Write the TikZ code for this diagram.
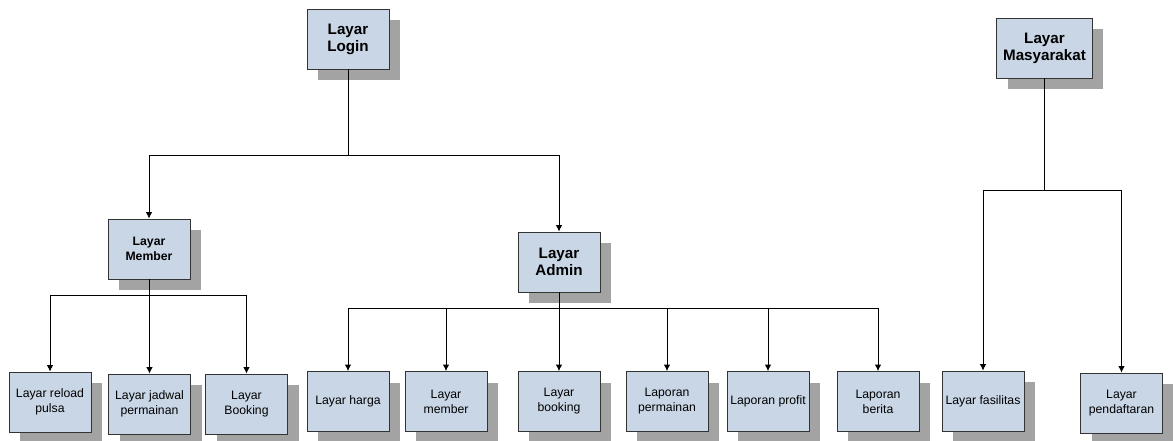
\documentclass[tikz,border=0pt]{standalone}
\usepackage{fontspec}
\setmainfont{Liberation Sans}
\usetikzlibrary{shadows,arrows.meta}
\definecolor{kotak}{RGB}{201,214,230}
\definecolor{bayang}{RGB}{163,163,163}

\begin{document}
\begin{tikzpicture}[x=0.025cm,y=-0.025cm,
    layar/.style={draw=black!80,fill=kotak,line width=0.6pt,minimum width=2.05cm,minimum height=1.5cm,
        align=center,inner sep=1pt,font=\fontsize{8.7}{10.6}\selectfont,
        general shadow={fill=bayang,shadow xshift=0.28cm,shadow yshift=-0.28cm}},
    induk/.style={layar,font=\bfseries\fontsize{10.8}{12.2}\selectfont},
    garis/.style={line width=0.6pt},
    panah/.style={garis,-{Latex[length=4.5pt,width=4.5pt]}}]
    \useasboundingbox (0,0) rectangle (1173,441);

    % Layar utama
    \node[induk] (login) at (348,39) {Layar\\Login};
    \node[induk,minimum width=2.38cm] (masy) at (1044.5,48) {Layar\\Masyarakat};
    \node[induk,font=\bfseries\fontsize{8.7}{10.8}\selectfont] (member) at (149,249) {Layar\\Member};
    \node[induk] (admin) at (559,262) {Layar\\Admin};

    % Menu member
    \node[layar] (reload) at (50,402) {Layar reload\\pulsa};
    \node[layar] (jadwal) at (149.5,404) {Layar jadwal\\permainan};
    \node[layar] (booking) at (246.5,404) {Layar\\Booking};

    % Menu admin
    \node[layar] (harga) at (348,401.5) {Layar harga};
    \node[layar] (amember) at (446,401.5) {Layar\\member};
    \node[layar] (abooking) at (559,401.5) {Layar\\booking};
    \node[layar] (lperm) at (667,401.5) {Laporan\\permainan};
    \node[layar] (lprofit) at (768,401.5) {Laporan profit};
    \node[layar] (lberita) at (878,401.5) {Laporan\\berita};

    % Menu masyarakat
    \node[layar] (fasil) at (983,401) {Layar fasilitas};
    \node[layar] (daftar) at (1121.5,403) {Layar\\pendaftaran};

    % Garis penghubung
    \coordinate (cLogin) at (348,155);
    \draw[garis] (login.south) -- (cLogin);
    \draw[panah] (cLogin) -| (member.north);
    \draw[panah] (cLogin) -| (admin.north);

    \coordinate (cMember) at (149,295);
    \draw[garis] (member.south) -- (cMember);
    \foreach \anak in {reload,jadwal,booking}
        \draw[panah] (cMember) -| (\anak.north);

    \coordinate (cAdmin) at (559,308);
    \draw[garis] (admin.south) -- (cAdmin);
    \foreach \anak in {harga,amember,abooking,lperm,lprofit,lberita}
        \draw[panah] (cAdmin) -| (\anak.north);

    \coordinate (cMasy) at (1044.5,190);
    \draw[garis] (masy.south) -- (cMasy);
    \foreach \anak in {fasil,daftar}
        \draw[panah] (cMasy) -| (\anak.north);
\end{tikzpicture}
\end{document}
